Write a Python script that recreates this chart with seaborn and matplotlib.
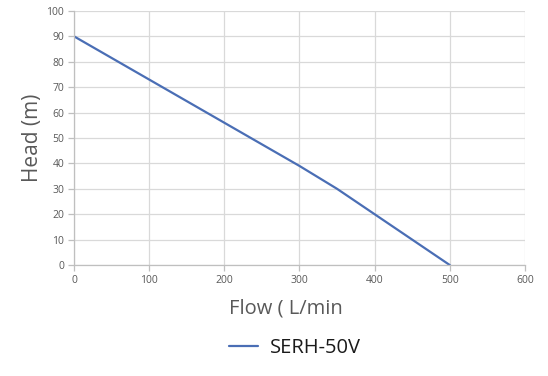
import matplotlib
matplotlib.use("Agg")
import matplotlib.pyplot as plt
import seaborn as sns
import pandas as pd

# data
flow = [0, 100, 200, 300, 350, 400, 500]
head = [90, 73, 56, 39, 30, 20, 0]
series_name = "SERH-50V"
x_ticks = [0, 100, 200, 300, 400, 500, 600]
y_ticks = [0, 10, 20, 30, 40, 50, 60, 70, 80, 90, 100]

df = pd.DataFrame({"flow": flow, "head": head, "model": series_name})

sns.set_theme(style="white")
plt.rcParams['font.family'] = ['Open Sans', 'DejaVu Sans']

fig = plt.figure(figsize=(5.48, 3.76), dpi=100)
ax = fig.add_axes([0.135, 0.295, 0.823, 0.676])

sns.lineplot(data=df, x="flow", y="head", hue="model", palette=["#4a6eb5"],
             linewidth=1.6, ax=ax, legend=True)

ax.set_xlim(0, 600)
ax.set_ylim(0, 100)
ax.set_xticks(x_ticks)
ax.set_yticks(y_ticks)
ax.grid(True, color="#d9d9d9", linewidth=0.9)
ax.set_axisbelow(True)

for side in ["top", "right"]:
    ax.spines[side].set_visible(False)
for side in ["left", "bottom"]:
    ax.spines[side].set_color("#bfbfbf")
    ax.spines[side].set_linewidth(0.9)

ax.tick_params(axis="both", which="major", length=4, width=0.9, color="#bfbfbf",
               labelsize=7.5, labelcolor="#595959", direction="out", pad=3)
ax.tick_params(left=True, bottom=True)

ax.set_xlabel("Flow ( L/min", fontsize=14.5, color="#595959")
ax.xaxis.set_label_coords(0.47, -0.13)
ax.set_ylabel("Head (m)", fontsize=15, color="#595959")
ax.yaxis.set_label_coords(-0.068, 0.5)

handles, labels = ax.get_legend_handles_labels()
ax.legend(handles, labels, loc="center", bbox_to_anchor=(0.49, -0.327),
          frameon=False, fontsize=14.5, handlelength=1.4, handletextpad=0.6,
          labelcolor="#1a1a1a")

fig.savefig("out.png", dpi=100)
